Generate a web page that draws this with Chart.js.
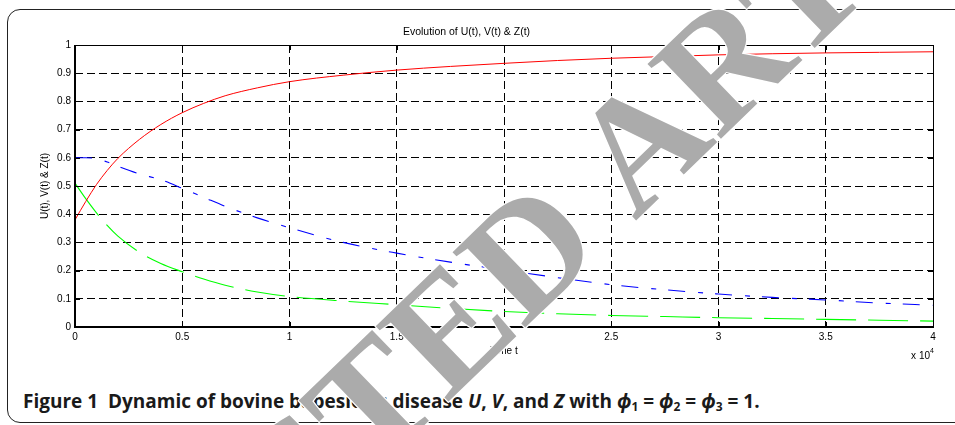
<!DOCTYPE html>
<html>
<head>
<meta charset="utf-8">
<script src="https://cdn.jsdelivr.net/npm/chart.js@4.4.1/dist/chart.umd.min.js"></script>
<style>
  html, body { margin: 0; padding: 0; background: #fff; }
  body { width: 955px; height: 425px; position: relative; overflow: hidden; }
  #box { position: absolute; left: 7px; top: 9px; width: 980px; height: 412px; border: 1px solid #222; border-radius: 13px; }
  #caption { position: absolute; left: 23px; top: 388px; font-family: "Open Sans", "Noto Sans", sans-serif; font-weight: bold; font-size: 19px; color: #1a1a1a; white-space: nowrap; }
  #caption sub { font-size: 12px; vertical-align: -3px; }
  #chart { position: absolute; left: 0; top: 0; }
</style>
</head>
<body>
<div id="box"></div>
<div id="caption">Figure 1&nbsp;&nbsp;Dynamic of bovine babesiosis disease <i>U</i>, <i>V</i>, and <i>Z</i> with <i>ϕ</i><sub>1</sub> = <i>ϕ</i><sub>2</sub> = <i>ϕ</i><sub>3</sub> = 1.</div>
<canvas id="chart" width="955" height="425"></canvas>
<script>
// time axis in units of 10^4
const tValues = [0, 0.05, 0.1, 0.15, 0.2, 0.3, 0.4, 0.5, 0.6, 0.7, 0.85, 1.0, 1.25, 1.5, 1.75, 2.0, 2.25, 2.5, 2.75, 3.0, 3.25, 3.5, 3.75, 4.0];
const uValues = [0.38, 0.445, 0.505, 0.555, 0.598, 0.665, 0.718, 0.76, 0.793, 0.82, 0.848, 0.87, 0.893, 0.911, 0.924, 0.935, 0.945, 0.953, 0.959, 0.965, 0.969, 0.972, 0.974, 0.976];
const vValues = [0.6, 0.6, 0.597, 0.585, 0.57, 0.543, 0.522, 0.492, 0.46, 0.428, 0.387, 0.352, 0.3, 0.262, 0.23, 0.202, 0.175, 0.15, 0.132, 0.117, 0.105, 0.096, 0.085, 0.077];
const zValues = [0.51, 0.455, 0.405, 0.36, 0.322, 0.265, 0.225, 0.196, 0.17, 0.148, 0.124, 0.108, 0.092, 0.079, 0.066, 0.055, 0.047, 0.041, 0.037, 0.033, 0.03, 0.027, 0.024, 0.021];

const xTickLabels = ["0", "0.5", "1", "1.5", "2", "2.5", "3", "3.5", "4"];
const yTickLabels = ["0", "0.1", "0.2", "0.3", "0.4", "0.5", "0.6", "0.7", "0.8", "0.9", "1"];

function points(ys) {
    return tValues.map((t, i) => ({ x: t, y: ys[i] }));
}

const axisFont = { family: "'Liberation Sans', Arial, sans-serif", size: 10 };

// box around the plot with matlab style inward ticks
const framePlugin = {
    id: "frame",
    afterDatasetsDraw(chart) {
        const ctx = chart.ctx;
        const { left, right, top, bottom } = chart.chartArea;
        const xs = chart.scales.x, ys = chart.scales.y;
        ctx.save();
        ctx.strokeStyle = "#000";
        ctx.lineWidth = 1;
        ctx.beginPath();
        ctx.moveTo(left, top + 0.5);
        ctx.lineTo(right + 0.5, top + 0.5);
        ctx.lineTo(right + 0.5, bottom);
        ctx.stroke();

        ctx.beginPath();
        xs.ticks.forEach(tk => {
            const px = Math.round(xs.getPixelForValue(tk.value)) + 0.5;
            ctx.moveTo(px, bottom); ctx.lineTo(px, bottom - 5);
            ctx.moveTo(px, top); ctx.lineTo(px, top + 5);
        });
        ys.ticks.forEach(tk => {
            const py = Math.round(ys.getPixelForValue(tk.value)) + 0.5;
            ctx.moveTo(left, py); ctx.lineTo(left + 5, py);
            ctx.moveTo(right, py); ctx.lineTo(right - 5, py);
        });
        ctx.stroke();

        ctx.lineWidth = 2;
        ctx.beginPath();
        ctx.moveTo(left, top);
        ctx.lineTo(left, bottom);
        ctx.lineTo(right + 1, bottom);
        ctx.stroke();
        ctx.restore();
    },
    afterDraw(chart) {
        const ctx = chart.ctx;
        const { right, bottom } = chart.chartArea;
        ctx.save();
        ctx.fillStyle = "#000";
        ctx.textAlign = "right";
        ctx.font = "7px 'Liberation Sans', Arial, sans-serif";
        ctx.fillText("4", right + 1, bottom + 26);
        ctx.font = "10px 'Liberation Sans', Arial, sans-serif";
        ctx.fillText("x 10", right - 3, bottom + 32);
        ctx.restore();
    }
};

// diagonal stamp over the whole figure
const stampPlugin = {
    id: "stamp",
    afterDraw(chart) {
        const ctx = chart.ctx;
        ctx.save();
        ctx.translate(640, 143);
        ctx.rotate(-44 * Math.PI / 180);
        ctx.font = "bold 160px 'Liberation Serif', 'Times New Roman', serif";
        ctx.fillStyle = "#ababab";
        ctx.strokeStyle = "#fff";
        ctx.lineWidth = 2.5;
        ctx.lineJoin = "round";
        ctx.textBaseline = "alphabetic";
        ctx.textAlign = "right";
        ctx.strokeText("RETRACTED ", -58, 53);
        ctx.fillText("RETRACTED ", -58, 53);
        ctx.textAlign = "left";
        ctx.strokeText("ARTICLE", -58, 53);
        ctx.fillText("ARTICLE", -58, 53);
        ctx.restore();
    }
};

new Chart(document.getElementById("chart"), {
    type: "line",
    data: {
        datasets: [{
            label: "U(t)",
            data: points(uValues),
            borderColor: "#ff0000",
            borderWidth: 1
        }, {
            label: "V(t)",
            data: points(vValues),
            borderColor: "#0000ff",
            borderWidth: 1.1,
            borderDash: [17, 13, 5, 12]
        }, {
            label: "Z(t)",
            data: points(zValues),
            borderColor: "#00ff00",
            borderWidth: 1.1,
            borderDash: [40, 12]
        }]
    },
    options: {
        responsive: false,
        animation: false,
        events: [],
        layout: { padding: { left: 0, right: 22, top: 0, bottom: 58 } },
        elements: {
            point: { radius: 0 },
            line: { cubicInterpolationMode: "monotone", fill: false }
        },
        plugins: {
            legend: { display: false },
            tooltip: { enabled: false },
            title: {
                display: true,
                text: "Evolution of U(t), V(t) & Z(t)",
                color: "#000",
                font: { family: axisFont.family, size: 10.5, weight: "normal" },
                padding: { top: 26, bottom: 6.4 }
            }
        },
        scales: {
            x: {
                type: "linear",
                min: 0,
                max: 4,
                ticks: {
                    stepSize: 0.5,
                    color: "#000",
                    font: axisFont,
                    padding: 4,
                    maxRotation: 0,
                    callback: (v, i) => xTickLabels[i]
                },
                grid: { color: "#000", lineWidth: 1, drawTicks: false },
                border: { display: false, dash: [8, 4] },
                title: {
                    display: true,
                    text: "Time t",
                    color: "#000",
                    font: axisFont,
                    padding: { top: 0, bottom: 10 }
                },
                afterFit(scale) { scale.height = 40; }
            },
            y: {
                min: 0,
                max: 1,
                ticks: {
                    stepSize: 0.1,
                    color: "#000",
                    font: axisFont,
                    padding: 4,
                    callback: (v, i) => yTickLabels[i]
                },
                grid: { color: "#000", lineWidth: 1, drawTicks: false },
                border: { display: false, dash: [8, 4] },
                title: {
                    display: true,
                    text: "U(t), V(t) & Z(t)",
                    color: "#000",
                    font: axisFont,
                    padding: { top: 39, bottom: 0 }
                },
                afterFit(scale) { scale.width = 75; }
            }
        }
    },
    plugins: [framePlugin, stampPlugin]
});
</script>
</body>
</html>
